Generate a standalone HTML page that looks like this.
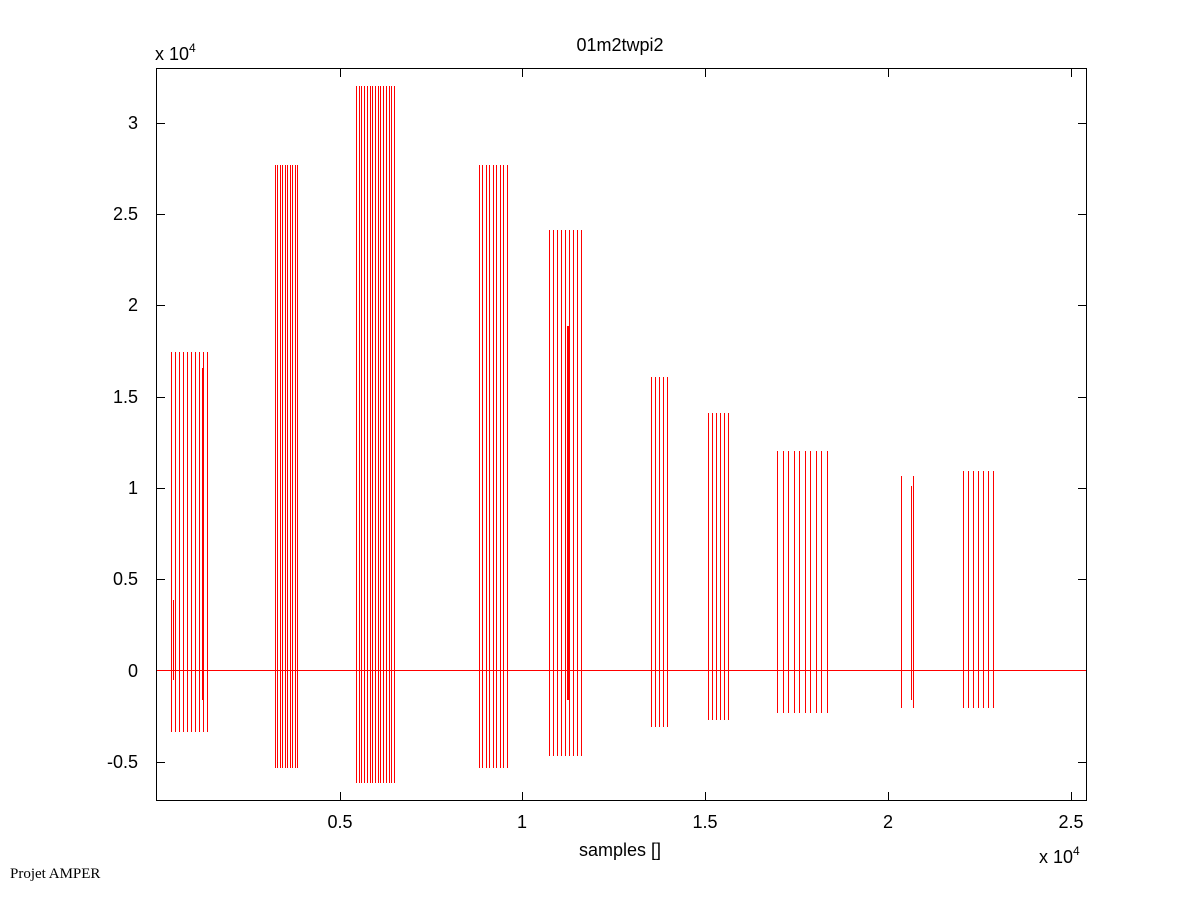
<!DOCTYPE html>
<html><head><meta charset="utf-8"><style>
body{margin:0;background:#fff}
text{font-family:"Liberation Sans",Arial,sans-serif;font-size:18px;fill:#000}
</style></head><body>
<svg width="1201" height="901" viewBox="0 0 1201 901" xmlns="http://www.w3.org/2000/svg">
<rect width="1201" height="901" fill="#fff"/>
<g fill="#ff0000">
<rect x="156" y="670" width="931" height="1"/>
<rect x="171" y="352" width="1" height="380"/><rect x="175" y="352" width="1" height="380"/><rect x="179" y="352" width="1" height="380"/><rect x="183" y="352" width="1" height="380"/><rect x="187" y="352" width="1" height="380"/><rect x="191" y="352" width="1" height="380"/><rect x="195" y="352" width="1" height="380"/><rect x="199" y="352" width="1" height="380"/><rect x="203" y="352" width="1" height="380"/><rect x="207" y="352" width="1" height="380"/><rect x="202" y="368" width="2" height="332"/><rect x="173" y="600" width="1" height="80"/>
<rect x="275" y="165" width="1" height="603"/><rect x="277" y="165" width="1" height="603"/><rect x="280" y="165" width="1" height="603"/><rect x="282" y="165" width="1" height="603"/><rect x="285" y="165" width="1" height="603"/><rect x="287" y="165" width="1" height="603"/><rect x="290" y="165" width="1" height="603"/><rect x="292" y="165" width="1" height="603"/><rect x="295" y="165" width="1" height="603"/><rect x="297" y="165" width="1" height="603"/>
<rect x="356" y="86" width="1" height="697"/><rect x="359" y="86" width="1" height="697"/><rect x="361" y="86" width="1" height="697"/><rect x="364" y="86" width="1" height="697"/><rect x="367" y="86" width="1" height="697"/><rect x="370" y="86" width="1" height="697"/><rect x="372" y="86" width="1" height="697"/><rect x="375" y="86" width="1" height="697"/><rect x="378" y="86" width="1" height="697"/><rect x="380" y="86" width="1" height="697"/><rect x="383" y="86" width="1" height="697"/><rect x="386" y="86" width="1" height="697"/><rect x="389" y="86" width="1" height="697"/><rect x="391" y="86" width="1" height="697"/><rect x="394" y="86" width="1" height="697"/>
<rect x="479" y="165" width="1" height="603"/><rect x="482" y="165" width="1" height="603"/><rect x="486" y="165" width="1" height="603"/><rect x="489" y="165" width="1" height="603"/><rect x="493" y="165" width="1" height="603"/><rect x="496" y="165" width="1" height="603"/><rect x="500" y="165" width="1" height="603"/><rect x="503" y="165" width="1" height="603"/><rect x="507" y="165" width="1" height="603"/>
<rect x="549" y="230" width="1" height="526"/><rect x="553" y="230" width="1" height="526"/><rect x="557" y="230" width="1" height="526"/><rect x="561" y="230" width="1" height="526"/><rect x="565" y="230" width="1" height="526"/><rect x="569" y="230" width="1" height="526"/><rect x="573" y="230" width="1" height="526"/><rect x="577" y="230" width="1" height="526"/><rect x="581" y="230" width="1" height="526"/><rect x="567" y="326" width="2" height="374"/>
<rect x="651" y="377" width="1" height="350"/><rect x="655" y="377" width="1" height="350"/><rect x="659" y="377" width="1" height="350"/><rect x="663" y="377" width="1" height="350"/><rect x="667" y="377" width="1" height="350"/>
<rect x="708" y="413" width="1" height="307"/><rect x="712" y="413" width="1" height="307"/><rect x="716" y="413" width="1" height="307"/><rect x="720" y="413" width="1" height="307"/><rect x="724" y="413" width="1" height="307"/><rect x="728" y="413" width="1" height="307"/>
<rect x="777" y="451" width="1" height="262"/><rect x="783" y="451" width="1" height="262"/><rect x="788" y="451" width="1" height="262"/><rect x="794" y="451" width="1" height="262"/><rect x="799" y="451" width="1" height="262"/><rect x="805" y="451" width="1" height="262"/><rect x="810" y="451" width="1" height="262"/><rect x="816" y="451" width="1" height="262"/><rect x="821" y="451" width="1" height="262"/><rect x="827" y="451" width="1" height="262"/>
<rect x="901" y="476" width="1" height="232"/><rect x="913" y="476" width="1" height="232"/><rect x="911" y="486" width="1" height="214"/>
<rect x="963" y="471" width="1" height="237"/><rect x="968" y="471" width="1" height="237"/><rect x="973" y="471" width="1" height="237"/><rect x="978" y="471" width="1" height="237"/><rect x="983" y="471" width="1" height="237"/><rect x="988" y="471" width="1" height="237"/><rect x="993" y="471" width="1" height="237"/>
</g>
<rect x="156.5" y="68.5" width="930" height="732" fill="none" stroke="#000" stroke-width="1"/>
<g fill="#000">
<rect x="156" y="123" width="9" height="1"/><rect x="156" y="214" width="9" height="1"/><rect x="156" y="305" width="9" height="1"/><rect x="156" y="397" width="9" height="1"/><rect x="156" y="488" width="9" height="1"/><rect x="156" y="579" width="9" height="1"/><rect x="156" y="762" width="9" height="1"/>
<rect x="1078" y="123" width="9" height="1"/><rect x="1078" y="214" width="9" height="1"/><rect x="1078" y="305" width="9" height="1"/><rect x="1078" y="397" width="9" height="1"/><rect x="1078" y="488" width="9" height="1"/><rect x="1078" y="579" width="9" height="1"/><rect x="1078" y="762" width="9" height="1"/>
<rect x="340" y="792" width="1" height="9"/><rect x="522" y="792" width="1" height="9"/><rect x="705" y="792" width="1" height="9"/><rect x="888" y="792" width="1" height="9"/><rect x="1071" y="792" width="1" height="9"/>
<rect x="340" y="68" width="1" height="9"/><rect x="522" y="68" width="1" height="9"/><rect x="705" y="68" width="1" height="9"/><rect x="888" y="68" width="1" height="9"/><rect x="1071" y="68" width="1" height="9"/>
</g>
<g text-anchor="end">
<text x="138" y="129">3</text>
<text x="138" y="220">2.5</text>
<text x="138" y="311">2</text>
<text x="138" y="403">1.5</text>
<text x="138" y="494">1</text>
<text x="138" y="585">0.5</text>
<text x="138" y="677">0</text>
<text x="138" y="768">-0.5</text>
</g>
<g text-anchor="middle">
<text x="340" y="828">0.5</text>
<text x="522" y="828">1</text>
<text x="705" y="828">1.5</text>
<text x="888" y="828">2</text>
<text x="1071" y="828">2.5</text>
<text x="620" y="51">01m2twpi2</text>
<text x="620" y="856">samples []</text>
</g>
<text x="155" y="60">x 10<tspan font-size="12" dy="-8">4</tspan></text>
<text x="1039" y="863">x 10<tspan font-size="12" dy="-8">4</tspan></text>
<text x="10" y="878" style="font-family:'Liberation Serif',serif;font-size:15px">Projet AMPER</text>
</svg>
</body></html>
